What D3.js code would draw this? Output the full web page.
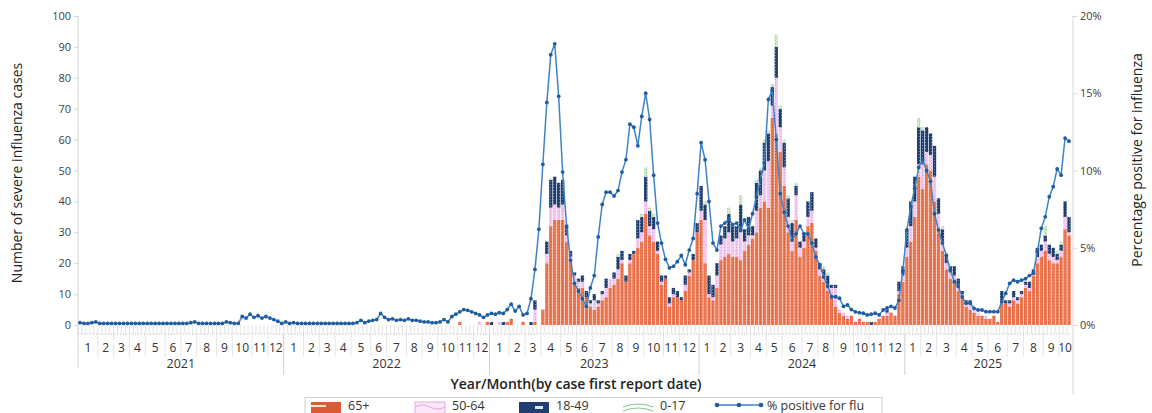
<!DOCTYPE html>
<html>
<head>
<meta charset="utf-8">
<script src="https://cdn.jsdelivr.net/npm/d3@7"></script>
<style>
  body { margin: 0; background: #ffffff; }
  svg { display: block; }
  text { font-family: "Open Sans", "Noto Sans", sans-serif; }
</style>
</head>
<body>
<svg id="chart" width="1152" height="413"></svg>
<script>
// ---- Data: weekly severe influenza cases by age group and % positive ----
const yearLabels = ["2021", "2022", "2023", "2024", "2025"];
const seriesKeys = ["age65", "age50", "age18", "age0"];
const seriesLabels = ["65+", "50-64", "18-49", "0-17"];
const leftTicks = [0, 10, 20, 30, 40, 50, 60, 70, 80, 90, 100];
const rightTicks = [0, 5, 10, 15, 20];

// one value per report week, Jan 2021 (week 1) .. Oct 2025
const age65 = [
  // 2021
  0,0,0,0,0,0,0,0,0,0, 0,0,0,0,0,0,0,0,0,0, 0,0,0,0,0,0,0,0,0,0,
  0,0,0,0,0,0,0,0,0,0, 0,0,0,0,0,0,0,0,0,0, 0,0,
  // 2022
  0,0,0,0,0,0,0,0,0,0, 0,0,0,0,0,0,0,0,0,0, 0,0,0,0,0,0,0,0,0,0,
  0,0,0,0,0,0,0,0,0,0, 0,0,0,0,1,0,0,0,0,0, 0,1,
  // 2023
  0,0,0,0,1,2,0,0,1,0, 0,1,0,5,20,32,34,34,34,27,
  21,14,12,12,9,6,5,6,8,9, 12,13,15,20,14,20,23,25,27,36,
  29,27,23,13,15,6,9,9,8,11, 16,21,30,
  // 2024
  34,20,9,8,12,21,22,23,22,22, 21,24,26,28,30,38,40,38,67,62,
  56,45,30,24,34,22,25,32,33,24, 16,14,11,9,6,4,3,2,3,1,
  2,1,1,0,1,2,3,3,4,3, 10,14,
  // 2025
  22,27,35,48,44,52,50,40,30,24, 18,15,14,11,9,6,5,4,3,3,
  2,2,3,1,7,7,6,8,7,9, 12,11,16,20,22,24,21,20,20,22, 31,29
];

const age50 = [
  // 2021
  0,0,0,0,0,0,0,0,0,0, 0,0,0,0,0,0,0,0,0,0, 0,0,0,0,0,0,0,0,0,0,
  0,0,0,0,0,0,0,0,0,0, 0,0,0,0,0,0,0,0,0,0, 0,0,
  // 2022
  0,0,0,0,0,0,0,0,0,0, 0,0,0,0,0,0,0,0,0,0, 0,0,0,0,0,0,0,0,0,0,
  0,0,0,0,0,0,0,0,0,0, 0,0,0,0,0,0,0,0,0,1, 0,0,
  // 2023
  0,0,1,0,0,0,0,0,0,0, 0,4,0,0,3,6,5,4,5,2,
  1,2,2,2,0,1,3,1,2,3, 3,2,3,1,0,1,0,3,3,4,
  3,4,1,1,0,1,1,0,0,2, 1,0,0,
  // 2024
  3,14,1,1,4,5,6,7,5,6, 9,3,3,1,7,4,10,15,4,18,
  8,6,5,4,8,3,2,3,4,1, 2,2,2,3,6,1,1,1,0,0,
  0,0,0,0,0,0,0,1,0,0, 1,2,
  // 2025
  3,5,5,4,8,4,5,8,6,3, 2,2,2,2,1,1,2,1,1,0,
  1,0,0,0,1,0,1,1,1,1, 1,1,1,2,2,3,2,2,1,2, 4,1
];

const age18 = [
  // 2021
  0,0,0,0,0,0,0,0,0,0, 0,0,0,0,0,0,0,0,0,0, 0,0,0,0,0,0,0,0,0,0,
  0,0,0,0,0,0,0,0,0,0, 0,0,0,0,0,0,0,0,0,0, 0,0,
  // 2022
  0,0,0,0,0,0,0,0,0,0, 0,0,0,0,0,0,0,0,0,0, 0,0,0,0,0,0,0,0,0,0,
  0,0,0,0,0,0,0,0,0,0, 0,0,0,0,0,0,0,0,0,0, 0,0,
  // 2023
  1,0,0,1,0,0,0,0,0,0, 1,3,0,0,4,9,9,8,8,3,
  2,1,1,2,2,1,2,1,1,3, 0,2,4,3,2,2,1,6,5,8,
  5,4,3,2,1,2,2,2,1,3, 1,2,3,
  // 2024
  8,5,6,4,4,3,4,6,5,4, 9,4,6,3,9,8,9,9,6,10,
  6,8,6,5,3,2,3,5,6,3, 2,2,3,1,1,0,0,0,0,0,
  0,0,0,1,0,0,0,1,0,0, 3,3,
  // 2025
  6,8,8,12,11,8,7,10,5,4, 3,2,3,2,1,1,1,0,0,0,
  0,0,0,0,3,1,1,2,1,1, 1,2,1,3,2,2,3,3,2,2, 5,5
];

const age0 = [
  // 2021
  0,0,0,0,0,0,0,0,0,0, 0,0,0,0,0,0,0,0,0,0, 0,0,0,0,0,0,0,0,0,0,
  0,0,0,0,0,0,0,0,0,0, 0,0,0,0,0,0,0,0,0,0, 0,0,
  // 2022
  0,0,0,0,0,0,0,0,0,0, 0,0,0,0,0,0,0,0,0,0, 0,0,0,0,0,0,0,0,0,0,
  0,0,0,0,0,0,0,0,0,0, 0,0,0,0,0,0,0,0,0,0, 0,0,
  // 2023
  0,0,0,0,0,0,0,0,0,0, 0,0,0,0,0,0,0,0,0,0,
  0,0,0,0,0,0,0,0,0,0, 0,0,1,0,0,0,0,0,1,3,
  1,1,0,0,0,0,0,0,0,0, 0,0,0,
  // 2024
  0,1,0,0,0,0,0,2,0,0, 3,0,0,0,1,1,1,1,1,4,
  1,1,1,1,1,0,0,0,0,0, 0,1,1,0,0,0,0,0,0,0,
  0,0,0,0,0,0,0,0,0,0, 0,0,
  // 2025
  0,0,0,3,1,0,0,0,0,1, 0,0,0,0,0,0,0,0,0,0,
  0,0,0,0,0,0,0,0,0,0, 0,0,0,0,0,3,0,0,1,1, 0,0
];

// % of specimens positive for influenza, same weeks
const pctPositive = [
  // 2021
  0.15,0.1,0.1,0.15,0.2,0.1,0.1,0.1,0.1,0.1, 0.1,0.1,0.1,0.1,0.1,0.1,0.1,0.1,0.1,0.1,
  0.1,0.1,0.1,0.1,0.1,0.1,0.1,0.1,0.15,0.2, 0.1,0.1,0.1,0.1,0.1,0.1,0.1,0.2,0.15,0.1,
  0.1,0.55,0.45,0.7,0.5,0.6,0.45,0.55,0.45,0.35, 0.25,0.1,
  // 2022
  0.2,0.1,0.15,0.1,0.1,0.1,0.1,0.1,0.1,0.1, 0.1,0.1,0.1,0.1,0.1,0.1,0.1,0.1,0.15,0.3,
  0.15,0.25,0.3,0.35,0.75,0.5,0.35,0.4,0.3,0.35, 0.3,0.4,0.3,0.3,0.25,0.2,0.2,0.15,0.15,0.2,
  0.35,0.2,0.55,0.7,0.85,1.0,0.95,0.85,0.75,0.65, 0.5,0.65,
  // 2023
  0.75,0.7,0.8,0.75,1.0,1.35,0.9,1.2,0.65,0.75, 1.7,3.6,6.2,10.4,14.4,17.5,18.2,14.8,9.9,6.4,
  4.2,2.7,2.2,1.7,1.2,2.4,3.2,5.7,7.8,8.6, 8.6,8.35,8.7,9.9,10.7,13.0,12.8,11.6,13.5,15.0,
  13.3,9.7,6.6,5.3,4.25,3.7,3.8,4.1,4.5,3.9, 4.85,5.6,8.5,
  // 2024
  11.8,10.7,8.0,5.3,4.85,6.4,6.6,6.9,6.5,6.6, 6.15,6.8,6.2,7.2,8.3,9.4,10.5,14.6,15.2,12.0,
  8.5,7.3,6.4,5.5,5.9,6.4,5.9,5.9,5.3,4.4, 3.9,3.1,2.5,1.83,1.83,1.73,1.2,1.3,1.0,0.85,
  0.8,0.76,0.65,0.7,0.76,0.65,0.97,1.1,1.2,1.1, 1.6,3.5,
  // 2025
  6.15,7.66,8.85,10.2,10.7,10.0,9.3,7.2,6.15,5.3, 4.5,3.56,2.8,2.5,1.83,1.4,1.4,1.08,0.97,0.97,
  0.86,0.86,0.86,0.86,1.5,2.05,2.7,2.9,2.8,2.9, 3.0,3.2,3.35,4.75,6.26,7.0,8.3,8.95,10.1,9.7,
  12.1,11.9
];

// ---- Week categories (Sunday-start report weeks) ----
const weeks = d3.timeSunday.range(new Date(2021, 0, 3), new Date(2025, 9, 20));
const rows = weeks.map((d, i) => ({
  date: d, i,
  age65: age65[i], age50: age50[i], age18: age18[i], age0: age0[i],
  pct: pctPositive[i]
}));

// ---- Layout ----
const plot = { left: 78, right: 1071, top: 16, bottom: 325 };
const svg = d3.select("#chart");

const x = d3.scaleBand()
  .domain(rows.map(r => r.i))
  .range([plot.left, plot.right])
  .paddingInner(0.16)
  .paddingOuter(0.08);
const yL = d3.scaleLinear().domain([0, 100]).range([plot.bottom, plot.top]);
const yR = d3.scaleLinear().domain([0, 20]).range([plot.bottom, plot.top]);

// ---- Fill patterns for the age-group bars ----
const defs = svg.append("defs");
function dotPattern(id, base, dot) {
  const p = defs.append("pattern").attr("id", id)
    .attr("width", 3).attr("height", 3).attr("patternUnits", "userSpaceOnUse");
  p.append("rect").attr("width", 3).attr("height", 3).attr("fill", base);
  p.append("rect").attr("x", 1).attr("y", 1).attr("width", 1).attr("height", 1).attr("fill", dot);
}
dotPattern("pat65", "#ec7750", "#c9573a");
dotPattern("pat50", "#f3c9f1", "#dca1da");
dotPattern("pat18", "#223e6c", "#6f8cbc");
dotPattern("pat0", "#cfe7c6", "#9fcb99");
const fills = { age65: "url(#pat65)", age50: "url(#pat50)", age18: "url(#pat18)", age0: "url(#pat0)" };

// ---- Axes lines and ticks ----
const axisColor = "#d6d6d6";
svg.append("line").attr("x1", plot.left).attr("x2", plot.left)
  .attr("y1", plot.top).attr("y2", 368).attr("stroke", axisColor);
svg.append("line").attr("x1", 1073).attr("x2", 1073)
  .attr("y1", plot.top).attr("y2", 395).attr("stroke", axisColor);

const gL = svg.append("g").attr("transform", `translate(${plot.left},0)`)
  .call(d3.axisLeft(yL).tickValues(leftTicks).tickSize(4).tickPadding(3));
const gR = svg.append("g").attr("transform", "translate(1073,0)")
  .call(d3.axisRight(yR).tickValues(rightTicks).tickSize(4).tickPadding(3)
    .tickFormat(d => d + "%"));
[gL, gR].forEach(g => {
  g.select(".domain").remove();
  g.selectAll(".tick line").attr("stroke", axisColor);
  g.selectAll(".tick text").attr("fill", "#404040")
    .style("font-size", "11px").style("font-family", "'Open Sans', sans-serif");
});

// week tick marks and dotted base rule below the bars
const tickG = svg.append("g");
tickG.selectAll("line.wk").data(rows).join("line")
  .attr("class", "wk")
  .attr("x1", d => x(d.i) - x.step() * x.paddingInner() / 2)
  .attr("x2", d => x(d.i) - x.step() * x.paddingInner() / 2)
  .attr("y1", plot.bottom).attr("y2", plot.bottom + 9)
  .attr("stroke", "#dcdcdc").attr("stroke-width", 0.8);
tickG.append("line").attr("x1", plot.left).attr("x2", 1071)
  .attr("y1", plot.bottom + 9).attr("y2", plot.bottom + 9)
  .attr("stroke", "#c7b3cf").attr("stroke-width", 1).attr("stroke-dasharray", "1.2,1.8");

// ---- Stacked bars ----
const stack = d3.stack().keys(seriesKeys)(rows);
svg.append("g").selectAll("g").data(stack).join("g")
  .attr("fill", s => fills[s.key])
  .selectAll("rect").data(s => s.filter(d => d[1] > d[0])).join("rect")
  .attr("x", d => x(d.data.i))
  .attr("width", x.bandwidth())
  .attr("y", d => yL(d[1]))
  .attr("height", d => yL(d[0]) - yL(d[1]));

// ---- % positive line ----
const cx = d => x(d.i) + x.bandwidth() / 2;
svg.append("path").datum(rows)
  .attr("fill", "none").attr("stroke", "#3f83c6").attr("stroke-width", 1.5)
  .attr("d", d3.line().x(cx).y(d => yR(d.pct)));
svg.append("g").selectAll("circle").data(rows).join("circle")
  .attr("cx", cx).attr("cy", d => yR(d.pct)).attr("r", 1.9)
  .attr("fill", "#1f5d9e");

// ---- Month / year category labels ----
const monthGroups = d3.groups(rows, d => d.date.getFullYear() * 100 + d.date.getMonth());
const edge = i => plot.left + x.step() * i;
const catG = svg.append("g");
monthGroups.forEach(([key, list], k) => {
  const first = list[0].i, last = list[list.length - 1].i;
  const mid = (edge(first) + edge(last + 1)) / 2;
  catG.append("text").attr("x", mid).attr("y", 352)
    .attr("text-anchor", "middle").attr("fill", "#333")
    .style("font-size", "12px").text(list[0].date.getMonth() + 1);
  if (k > 0 && list[0].date.getMonth() !== 0) {
    catG.append("line").attr("x1", edge(first)).attr("x2", edge(first))
      .attr("y1", plot.bottom + 9).attr("y2", 357).attr("stroke", "#e6e6e6");
  }
});
const yearGroups = d3.groups(rows, d => d.date.getFullYear());
yearGroups.forEach(([yr, list], k) => {
  const first = list[0].i, last = list[list.length - 1].i;
  const mid = (edge(first) + edge(last + 1)) / 2;
  catG.append("text").attr("x", mid).attr("y", 368)
    .attr("text-anchor", "middle").attr("fill", "#333")
    .style("font-size", "12.5px").text(yearLabels[k]);
  if (k > 0) {
    catG.append("line").attr("x1", edge(first)).attr("x2", edge(first))
      .attr("y1", plot.bottom + 9).attr("y2", 375).attr("stroke", "#d0d0d0");
  }
});

// ---- Axis titles ----
svg.append("text")
  .attr("transform", "translate(22,173) rotate(-90)")
  .attr("text-anchor", "middle").attr("fill", "#222")
  .style("font-size", "14px").text("Number of severe influenza cases");
svg.append("text")
  .attr("transform", "translate(1142,160) rotate(-90)")
  .attr("text-anchor", "middle").attr("fill", "#222")
  .style("font-size", "14px").text("Percentage positive for influenza");
svg.append("text")
  .attr("x", 576).attr("y", 389).attr("text-anchor", "middle").attr("fill", "#222")
  .style("font-size", "14px").style("font-weight", 600)
  .text("Year/Month(by case first report date)");

// ---- Legend ----
const lg = svg.append("g");
lg.append("rect").attr("x", 305).attr("y", 397.5).attr("width", 577).attr("height", 30)
  .attr("fill", "#fff").attr("stroke", "#cfcfcf");
const itemX = [311, 415, 519, 623];
const swY = 402, swH = 12, swW = 30;
// 65+
lg.append("rect").attr("x", itemX[0]).attr("y", swY).attr("width", swW).attr("height", swH).attr("fill", "#dd5a38");
lg.append("rect").attr("x", itemX[0]).attr("y", swY + 3).attr("width", 15).attr("height", 2).attr("fill", "#fbe0d6");
// 50-64
lg.append("rect").attr("x", itemX[1]).attr("y", swY).attr("width", swW).attr("height", swH)
  .attr("fill", "#fbe6fa").attr("stroke", "#e3a9e1");
lg.append("path").attr("d", `M${itemX[1]},${swY + 5} q7.5,-4 15,0 t15,0`)
  .attr("fill", "none").attr("stroke", "#e3a9e1");
// 18-49
lg.append("rect").attr("x", itemX[2]).attr("y", swY).attr("width", swW).attr("height", swH).attr("fill", "#203e70");
lg.append("rect").attr("x", itemX[2] + 16).attr("y", swY + 4).attr("width", 8).attr("height", 3).attr("fill", "#dfe6f2");
// 0-17
[0, 4].forEach(dy => {
  lg.append("path").attr("d", `M${itemX[3]},${swY + 5 + dy} q15,-6 30,0`)
    .attr("fill", "none").attr("stroke", "#8cc98c").attr("stroke-width", 1.2);
});
seriesLabels.forEach((t, k) => {
  lg.append("text").attr("x", itemX[k] + 37).attr("y", 410).attr("fill", "#333")
    .style("font-size", "12.5px").text(t);
});
// % positive
lg.append("line").attr("x1", 717).attr("x2", 761).attr("y1", 405).attr("y2", 405)
  .attr("stroke", "#3f83c6").attr("stroke-width", 1.5);
[717, 739, 761].forEach(px => lg.append("circle").attr("cx", px).attr("cy", 405).attr("r", 2.3).attr("fill", "#1f5d9e"));
lg.append("text").attr("x", 767).attr("y", 410).attr("fill", "#333")
  .style("font-size", "12.5px").text("% positive for flu");
</script>
</body>
</html>
